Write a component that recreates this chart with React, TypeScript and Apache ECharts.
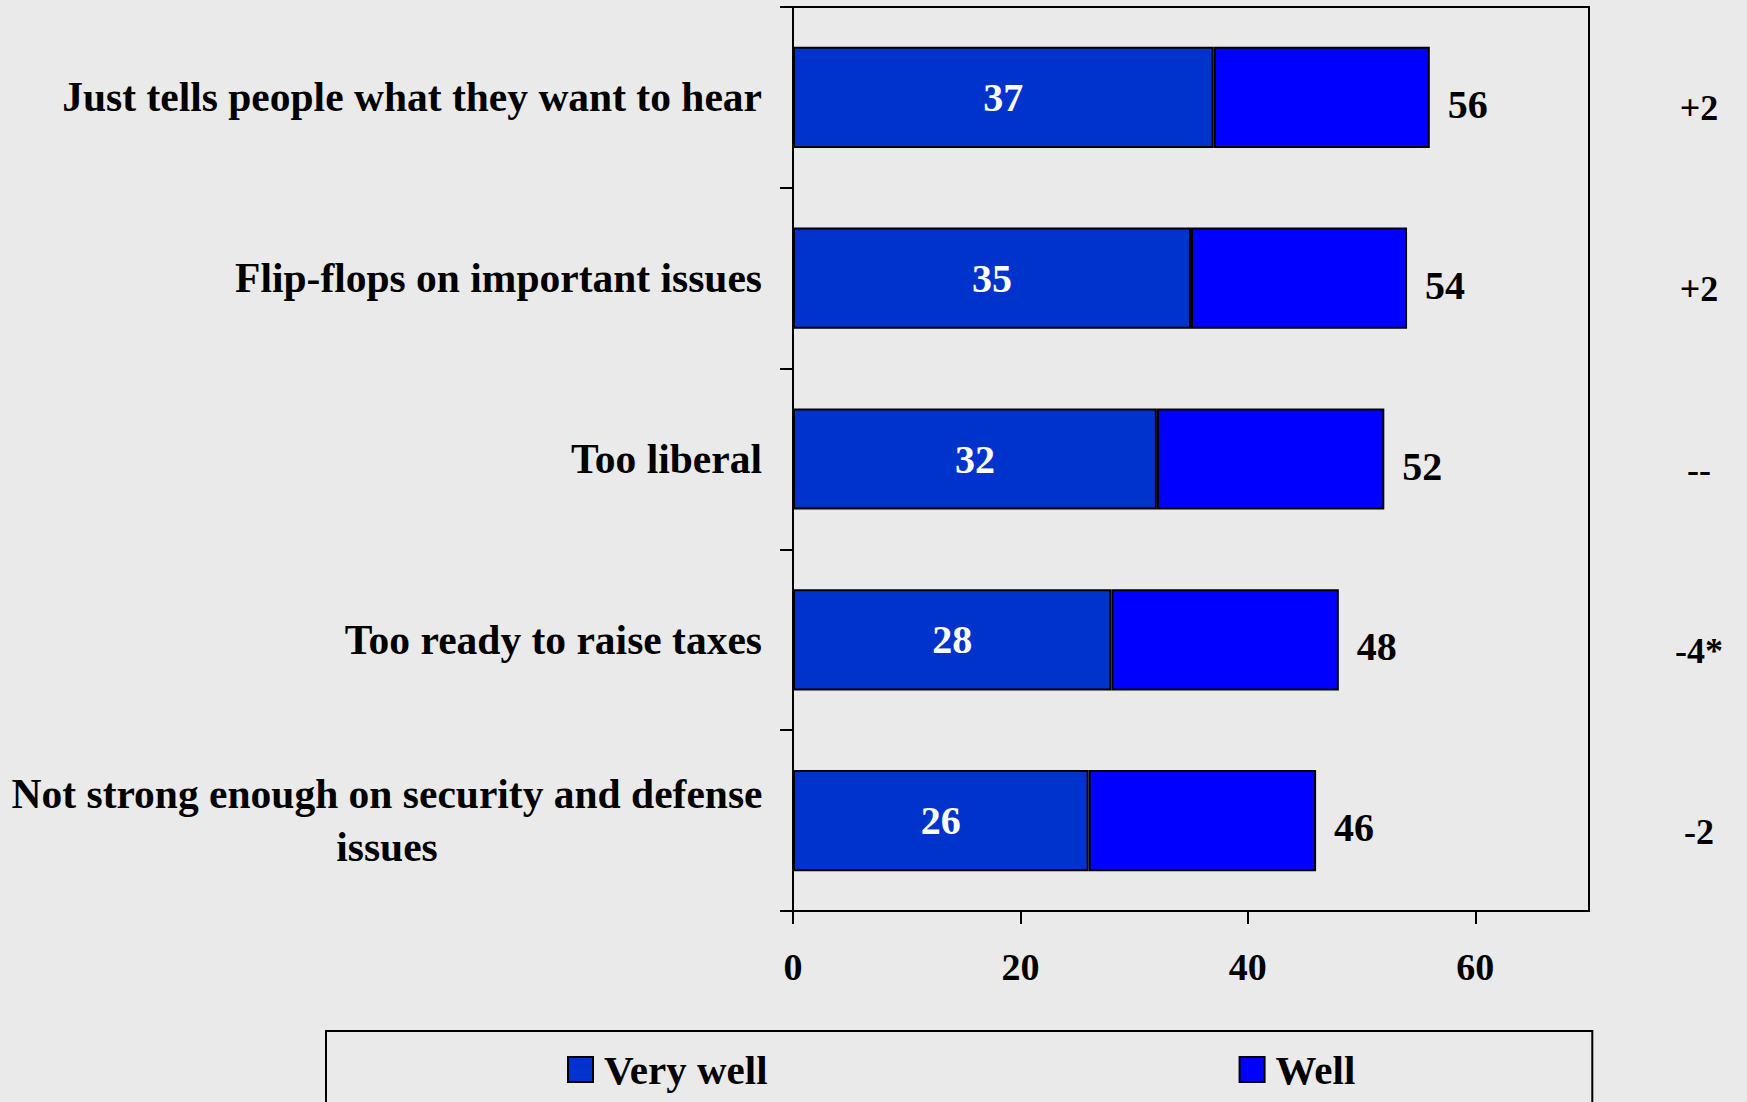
import React, { useEffect, useRef } from "react";
import * as echarts from "echarts";

const categories = [
  "Just tells people what they want to hear",
  "Flip-flops on important issues",
  "Too liberal",
  "Too ready to raise taxes",
  "Not strong enough on security and defense\nissues",
];
const veryWell = [37, 35, 32, 28, 26];
const well = [19, 19, 20, 20, 20];
const totals = [56, 54, 52, 48, 46];
const changes = ["+2", "+2", "--", "-4*", "-2"];
const xTicks = [0, 20, 40, 60];

const FONT = "'Liberation Serif', 'Times New Roman', serif";

export default function App() {
  const ref = useRef<HTMLDivElement>(null);
  useEffect(() => {
    document.body.style.margin = "0";
    const chart = echarts.init(ref.current!, null, { renderer: "svg" });
    const option: any = {
      animation: false,
      backgroundColor: "#EAEAEA",
      textStyle: { fontFamily: FONT },
      grid: {
        left: 793,
        right: 158,
        top: 7,
        bottom: 191,
        show: true,
        borderColor: "#000",
        borderWidth: 2,
        backgroundColor: "transparent",
      },
      legend: {
        left: 326,
        top: 1031,
        padding: [18, 237, 40, 241],
        itemGap: 471,
        itemWidth: 25,
        itemHeight: 25,
        icon: "rect",
        borderColor: "#000",
        borderWidth: 2,
        textStyle: {
          fontFamily: FONT,
          fontSize: 41,
          fontWeight: "bold",
          color: "#000",
          padding: [0, 0, 0, 6],
        },
        data: ["Very well", "Well"],
      },
      xAxis: {
        type: "value",
        min: 0,
        max: 70,
        interval: 20,
        splitLine: { show: false },
        axisLine: { show: true, lineStyle: { color: "#000", width: 2 } },
        axisTick: {
          show: true,
          length: 13,
          customValues: xTicks,
          lineStyle: { color: "#000", width: 2 },
        },
        axisLabel: {
          customValues: xTicks,
          margin: 37,
          fontFamily: FONT,
          fontSize: 38,
          fontWeight: "bold",
          color: "#000",
        },
      },
      yAxis: [
        {
          type: "category",
          inverse: true,
          data: categories,
          axisLine: { show: true, lineStyle: { color: "#000", width: 2 } },
          axisTick: { show: true, length: 13, lineStyle: { color: "#000", width: 2 } },
          axisLabel: {
            margin: 31,
            fontFamily: FONT,
            fontSize: 41.5,
            fontWeight: "bold",
            color: "#000",
            lineHeight: 53,
            formatter: (v: string) => {
              if (v.indexOf("\n") >= 0) {
                return v
                  .split("\n")
                  .map((s) => "{c|" + s + "}")
                  .join("\n");
              }
              return v;
            },
            rich: {
              c: {
                width: 750,
                align: "center",
                fontFamily: FONT,
                fontSize: 41.5,
                fontWeight: "bold",
                color: "#000",
                lineHeight: 53,
              },
            },
          },
        },
        {
          type: "category",
          inverse: true,
          position: "right",
          data: changes,
          axisLine: { show: false },
          axisTick: { show: false },
          axisLabel: {
            margin: 110,
            align: "center",
            fontFamily: FONT,
            fontSize: 36,
            fontWeight: "bold",
            color: "#000",
            formatter: (v: string) => "{a|" + v + "}",
            rich: {
              a: {
                padding: [22, 0, 0, 0],
                fontFamily: FONT,
                fontSize: 36,
                fontWeight: "bold",
                color: "#000",
              },
            },
          },
        },
      ],
      series: [
        {
          name: "Very well",
          type: "bar",
          stack: "total",
          yAxisIndex: 0,
          barWidth: "56%",
          data: veryWell,
          itemStyle: { color: "#0033CC", borderColor: "#000", borderWidth: 2 },
          label: {
            show: true,
            position: "inside",
            color: "#fff",
            fontFamily: FONT,
            fontSize: 40,
            fontWeight: "bold",
          },
        },
        {
          name: "Well",
          type: "bar",
          stack: "total",
          yAxisIndex: 0,
          barWidth: "56%",
          data: well,
          itemStyle: { color: "#0000FF", borderColor: "#000", borderWidth: 2 },
          label: {
            show: true,
            position: "right",
            distance: 18,
            offset: [0, 7],
            color: "#000",
            fontFamily: FONT,
            fontSize: 40,
            fontWeight: "bold",
            formatter: (p: any) => String(totals[p.dataIndex]),
          },
        },
      ],
    };
    chart.setOption(option);
    return () => chart.dispose();
  }, []);
  return (
    <div
      ref={ref}
      style={{ position: "absolute", left: 0, top: 0, width: 1747, height: 1102 }}
    />
  );
}
